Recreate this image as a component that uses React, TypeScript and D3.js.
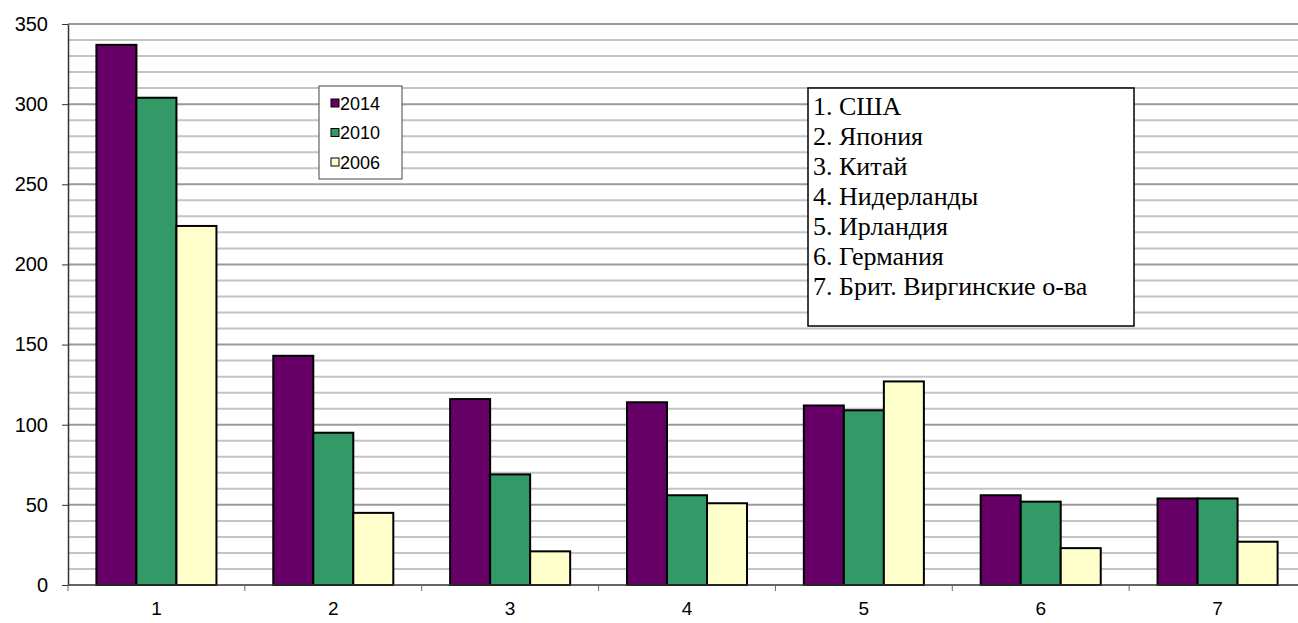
import React, { useEffect, useRef } from "react";
import * as d3 from "d3";

const categories = ["1", "2", "3", "4", "5", "6", "7"];
const seriesNames = ["2014", "2010", "2006"];
const values2014 = [337, 143, 116, 114, 112, 56, 54];
const values2010 = [304, 95, 69, 56, 109, 52, 54];
const values2006 = [224, 45, 21, 51, 127, 23, 27];
const colors = ["#660066", "#339966", "#FFFFCC"];
const yTicks = [0, 50, 100, 150, 200, 250, 300, 350];
const countries = [
  "1. США",
  "2. Япония",
  "3. Китай",
  "4. Нидерланды",
  "5. Ирландия",
  "6. Германия",
  "7. Брит. Виргинские о-ва",
];

const App = () => {
  const ref = useRef<SVGSVGElement>(null);

  useEffect(() => {
    const svg = d3.select(ref.current);
    svg.selectAll("*").remove();

    const left = 68,
      right = 1306,
      top = 24,
      bottom = 585;

    const x = d3.scaleBand().domain(categories).range([left, right]);
    // three bars fill ~68% of each category
    const x1 = d3
      .scaleBand()
      .domain(seriesNames)
      .range([0, x.bandwidth()])
      .paddingOuter(0.71)
      .paddingInner(0);
    const y = d3.scaleLinear().domain([0, 350]).range([bottom, top]);

    // gridlines
    const minor = d3.range(10, 351, 10).filter((v) => v % 50 !== 0);
    svg
      .selectAll(".minor")
      .data(minor)
      .join("line")
      .attr("x1", left)
      .attr("x2", right)
      .attr("y1", (d) => y(d))
      .attr("y2", (d) => y(d))
      .attr("stroke", "#c4c4c4")
      .attr("stroke-width", 2);
    svg
      .selectAll(".major")
      .data(yTicks.filter((d) => d > 0))
      .join("line")
      .attr("x1", left)
      .attr("x2", right)
      .attr("y1", (d) => y(d))
      .attr("y2", (d) => y(d))
      .attr("stroke", "#9a9a9a")
      .attr("stroke-width", 2);

    // bars
    const series = [values2014, values2010, values2006];
    series.forEach((vals, si) => {
      svg
        .append("g")
        .selectAll("rect")
        .data(vals)
        .join("rect")
        .attr("x", (d, i) => (x(categories[i]) as number) + (x1(seriesNames[si]) as number))
        .attr("y", (d) => y(d))
        .attr("width", x1.bandwidth())
        .attr("height", (d) => y(0) - y(d))
        .attr("fill", colors[si])
        .attr("stroke", "#000")
        .attr("stroke-width", 2);
    });

    // axes
    const yAxis = svg
      .append("g")
      .attr("transform", `translate(${left},0)`)
      .call(d3.axisLeft(y).tickValues(yTicks).tickSize(6).tickSizeOuter(0).tickPadding(14));
    yAxis.select(".domain").attr("stroke", "#333").attr("stroke-width", 1.5);
    yAxis.selectAll("line").attr("stroke", "#333");
    yAxis
      .selectAll("text")
      .attr("font-family", "Liberation Sans, Arial, sans-serif")
      .attr("font-size", 20)
      .attr("fill", "#000");

    const xAxis = svg.append("g").attr("transform", `translate(0,${bottom})`);
    xAxis
      .append("line")
      .attr("x1", left)
      .attr("x2", right)
      .attr("y1", 0)
      .attr("y2", 0)
      .attr("stroke", "#333")
      .attr("stroke-width", 1.5);
    xAxis
      .selectAll(".tk")
      .data(categories)
      .join("line")
      .attr("x1", (d) => x(d) as number)
      .attr("x2", (d) => x(d) as number)
      .attr("y1", 0)
      .attr("y2", 6)
      .attr("stroke", "#666");
    xAxis
      .selectAll("text")
      .data(categories)
      .join("text")
      .attr("x", (d) => (x(d) as number) + x.bandwidth() / 2)
      .attr("y", 30)
      .attr("text-anchor", "middle")
      .attr("font-family", "Liberation Sans, Arial, sans-serif")
      .attr("font-size", 19)
      .text((d) => d);

    // legend
    const lg = svg.append("g").attr("transform", "translate(319,86)");
    lg.append("rect")
      .attr("width", 83)
      .attr("height", 93)
      .attr("fill", "#fff")
      .attr("stroke", "#444")
      .attr("stroke-width", 1);
    seriesNames.forEach((name, i) => {
      const g = lg.append("g").attr("transform", `translate(0,${17 + i * 29.5})`);
      g.append("rect")
        .attr("x", 12)
        .attr("y", -4)
        .attr("width", 8)
        .attr("height", 8)
        .attr("fill", colors[i])
        .attr("stroke", "#000")
        .attr("stroke-width", 1);
      g.append("text")
        .attr("x", 21)
        .attr("y", 6.5)
        .attr("font-family", "Liberation Sans, Arial, sans-serif")
        .attr("font-size", 18)
        .text(name);
    });

    // country list
    const tb = svg.append("g").attr("transform", "translate(808,88)");
    tb.append("rect")
      .attr("width", 326)
      .attr("height", 238)
      .attr("fill", "#fff")
      .attr("stroke", "#000")
      .attr("stroke-width", 1.5);
    tb.selectAll("text")
      .data(countries)
      .join("text")
      .attr("x", 5)
      .attr("y", (d, i) => 27 + i * 30)
      .attr("font-family", "Liberation Serif, Times New Roman, serif")
      .attr("font-size", 26)
      .text((d) => d);
  }, []);

  return (
    <svg
      ref={ref}
      width={1298}
      height={623}
      style={{ position: "absolute", left: 0, top: 0, background: "#fff" }}
    />
  );
};

export default App;
